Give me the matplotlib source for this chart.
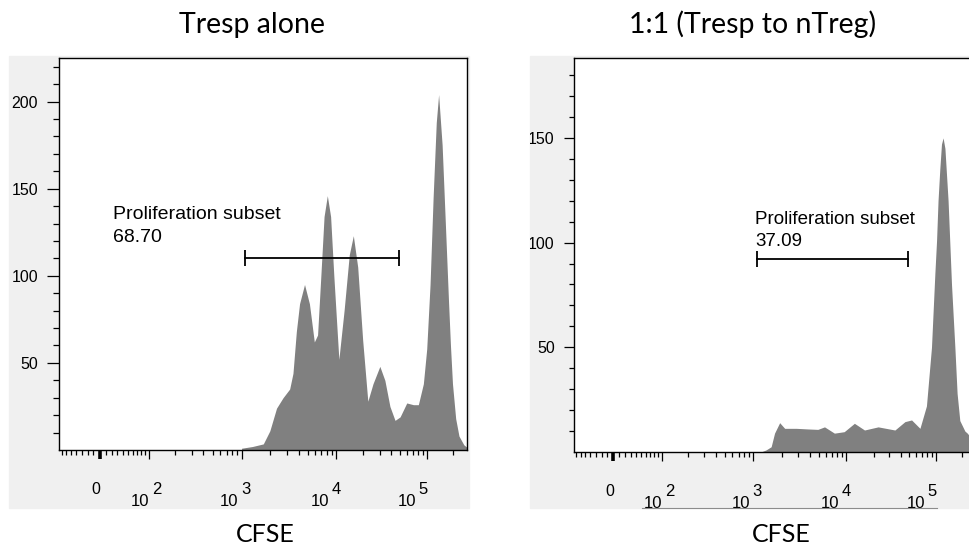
import numpy as np
import matplotlib
matplotlib.use('Agg')
import matplotlib.pyplot as plt
from matplotlib.patches import Rectangle
from matplotlib.lines import Line2D
from matplotlib.ticker import FixedLocator, NullFormatter, FormatStrFormatter
from matplotlib.transforms import ScaledTranslation, Bbox, TransformedBbox, blended_transform_factory

# CFSE histogram, Tresp alone (CFSE intensity, event count)
tresp_cfse = [1000, 1300, 1690, 1980, 2330, 2730, 3210, 3480, 3780, 4090,
              4620, 5210, 5880, 6370, 6910, 7480, 8110, 8800, 9530, 10800,
              12300, 14000, 15500, 17300, 19600, 22300, 25400, 30200, 34300, 39000,
              44400, 50500, 59900, 71000, 80600, 91700, 100000, 109000, 118000, 128000,
              136000, 149000, 162000, 176000, 185000, 195000, 212000, 231000, 262000, 285000]
tresp_count = [1, 2, 3.5, 11, 24, 30, 35, 44, 68, 84,
               95, 84, 62, 66, 100, 134, 146, 134, 100, 52,
               80, 112, 123, 105, 63, 28, 38, 48, 40, 25,
               17, 19, 27, 26, 26, 38, 58, 95, 145, 188,
               204, 175, 130, 85, 60, 38, 18, 8, 3, 1.5]

# CFSE histogram, 1:1 Tresp to nTreg
coculture_cfse = [1200, 1365, 1545, 1680, 1905, 2155, 2870, 3840, 4910, 5800,
                  7430, 9510, 12300, 15900, 22500, 34600, 44800, 53200, 66100, 78300,
                  89300, 97500, 102000, 106000, 111000, 116000, 121000, 127000, 138000, 151000,
                  165000, 175000, 188000, 215000, 229000, 262000, 285000]
coculture_count = [0, 1, 2.5, 9, 14, 11.3, 11.3, 11, 10.8, 12,
                   9, 9.7, 13.7, 10.5, 12, 10.5, 14.5, 15.3, 11.3, 22,
                   50, 85, 101, 120, 135, 147, 150, 145, 120, 80,
                   50, 28, 15, 10, 9, 6, 4]

titles = ['Tresp alone', '1:1 (Tresp to nTreg)']
gate_label = 'Proliferation subset'
gate_pct = ['68.70', '37.09']
gate_range = [1090, 49000]
gate_y = [110, 92]
y_max = [225, 188]
y_major = [[50, 100, 150, 200], [50, 100, 150]]
x_major = [0, 1e2, 1e3, 1e4, 1e5]
decades = [2, 3, 4, 5]
x_minor = ([-90, -80, -70, -60, -50, -40, -30, -20, -10, 10, 20, 30, 40, 50, 60, 70, 80, 90]
           + [m * 10 ** k for k in (2, 3, 4) for m in range(2, 10)] + [2e5])
x_lim = (-76, 285000)

# logicle-like display transform (asinh, slight compression of high decades)
ASINH_W = 71.9
DEC_PX = 99.15
CURV = -1.65


def _d(x):
    return np.arcsinh(np.asarray(x, float) / ASINH_W) / np.log(10) + np.log10(ASINH_W / 2) - 2


def fwd(x):
    d = _d(x)
    return DEC_PX * d + CURV * d ** 2


def inv(p):
    p = np.asarray(p, float)
    d = (-DEC_PX + np.sqrt(np.maximum(DEC_PX ** 2 + 4 * CURV * p, 0))) / (2 * CURV)
    s = (d + 2 - np.log10(ASINH_W / 2)) * np.log(10)
    return ASINH_W * np.sinh(np.clip(s, -50, 50))


W, H = 969, 554
fig = plt.figure(figsize=(W / 100, H / 100), dpi=100)
LAB = 'Liberation Sans'
HEAD = 'Lato'


def fr(x0, y0, x1, y1):
    # pixel box -> figure fraction rect
    return [x0 / W, 1 - y1 / H, (x1 - x0) / W, (y1 - y0) / H]


# grey FlowJo plot backgrounds
for box in [(9, 55.5, 469, 508), (530, 55.5, 990, 508)]:
    r = fr(*box)
    fig.add_artist(Rectangle(r[:2], r[2], r[3], transform=fig.transFigure,
                             color='#f0f0f0', zorder=-5))

ax1 = fig.add_axes(fr(59, 58, 467, 450))
ax2 = fig.add_axes(fr(573.5, 58.3, 975.5, 452))
panels = [(ax1, tresp_cfse, tresp_count, 12, 6, 14),
          (ax2, coculture_cfse, coculture_count, 10, 5, 13.5)]
dpi_tr = fig.dpi_scale_trans


def off(dx, dy):
    return ScaledTranslation(dx / 100, dy / 100, dpi_tr)


for i, (ax, xs, ys, ymaj, ymin, gate_fs) in enumerate(panels):
    ax.set_facecolor('white')
    ax.set_xscale('function', functions=(fwd, inv))
    ax.fill_between(xs, ys, color='#808080', lw=0, zorder=2)
    ax.set_xlim(*x_lim)
    ax.set_ylim(0, y_max[i])

    for sp in ax.spines.values():
        sp.set_linewidth(1.0)
        sp.set_color('black')

    ax.yaxis.set_major_locator(FixedLocator(y_major[i]))
    ax.yaxis.set_minor_locator(FixedLocator(list(range(10, y_max[i], 10))))
    ax.yaxis.set_major_formatter(FormatStrFormatter('%d'))
    ax.tick_params(axis='y', which='major', direction='out', length=ymaj * 0.72,
                   width=0.9, pad=6.3, labelsize=11.5)
    ax.tick_params(axis='y', which='minor', direction='out', length=ymin * 0.72, width=0.9)
    for lbl in ax.get_yticklabels():
        lbl.set_fontfamily(LAB)

    ax.xaxis.set_major_locator(FixedLocator(x_major))
    ax.xaxis.set_minor_locator(FixedLocator(x_minor))
    ax.xaxis.set_major_formatter(NullFormatter())
    ax.xaxis.set_minor_formatter(NullFormatter())
    ax.tick_params(axis='x', which='major', direction='out', length=6.5, width=0.9)
    ax.tick_params(axis='x', which='minor', direction='out', length=3.6, width=0.9)
    ax.xaxis.get_major_ticks()[0].tick1line.set_markeredgewidth(2.6)

    # FlowJo style decade labels: "0", then 10 with a raised exponent
    base = blended_transform_factory(ax.transData, ax.transAxes)
    ax.text(0, 0, '0', transform=base + off(-4, -40), ha='center', va='center',
            fontsize=11.5, family=LAB)
    for k in decades:
        shift = 0.5 - 3.7 * (k - 2)
        ax.text(10.0 ** k, 0, '10', transform=base + off(shift, -51), ha='right',
                va='center', fontsize=12, family=LAB)
        ax.text(10.0 ** k, 0, str(k), transform=base + off(shift + 2.5, -40), ha='left',
                va='center', fontsize=12, family=LAB)

    # gate bar
    ax.plot(gate_range, [gate_y[i]] * 2, color='black', lw=1.3, marker='|',
            ms=11.5, mew=1.3, zorder=3)

ax1.text(0.1324, 0.5893, gate_label, transform=ax1.transAxes, fontsize=14, family=LAB)
ax1.text(0.1324, 0.5298, gate_pct[0], transform=ax1.transAxes, fontsize=14, family=LAB)
ax2.text(0.4515, 0.5784, gate_label, transform=ax2.transAxes, fontsize=13.5, family=LAB)
ax2.text(0.4515, 0.5240, gate_pct[1], transform=ax2.transAxes, fontsize=13.5, family=LAB)

# right plot is cropped on its left by the grey box
clip = TransformedBbox(Bbox.from_bounds(*fr(530, 55.5, 990, 508)), fig.transFigure)
for lbl in ax2.get_yticklabels():
    lbl.set_clip_box(clip)
    lbl.set_clip_on(True)

fig.add_artist(Line2D([641.7 / W, 936.7 / W], [1 - 508.3 / H] * 2,
                      transform=fig.transFigure, color='#8c8c8c', lw=0.8))

fig.text(252.5 / W, 1 - 33.3 / H, titles[0], ha='center', va='baseline',
         fontsize=20.5, family=HEAD)
fig.text(752.3 / W, 1 - 33.3 / H, titles[1], ha='center', va='baseline',
         fontsize=20.5, family=HEAD)
fig.text(265 / W, 1 - 541.7 / H, 'CFSE', ha='center', va='baseline',
         fontsize=18, family=HEAD)
fig.text(781 / W, 1 - 541.7 / H, 'CFSE', ha='center', va='baseline',
         fontsize=18, family=HEAD)

fig.savefig('out.png', dpi=100, facecolor='white')
